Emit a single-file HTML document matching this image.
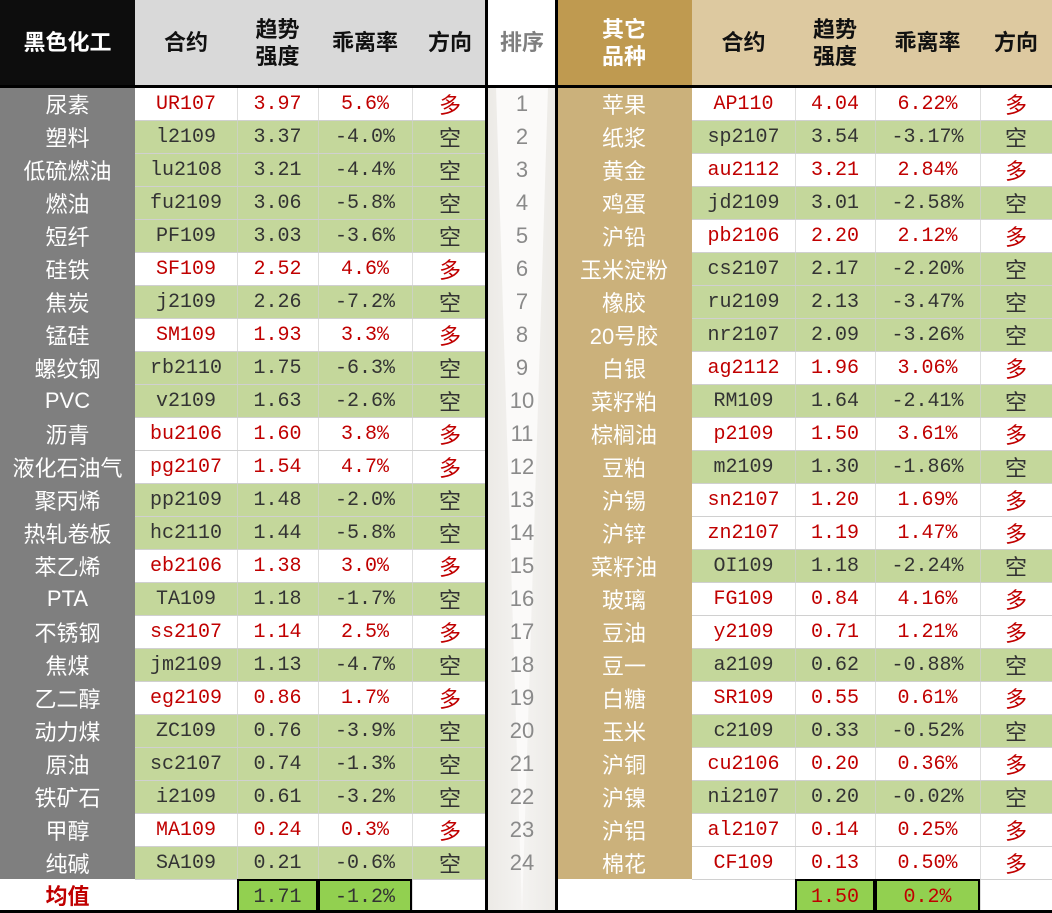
<!DOCTYPE html>
<html><head><meta charset="utf-8">
<style>
body{margin:0;width:1052px;height:913px;overflow:hidden;background:#fff;font-family:"Liberation Sans","Noto Sans CJK SC",sans-serif;position:relative}
.c{position:absolute;display:flex;align-items:center;justify-content:center;box-sizing:border-box;font-size:22px;color:#333;white-space:nowrap}
.n{font-family:"Liberation Mono","Noto Sans CJK SC",monospace;font-size:20px;padding-top:2px}
.h{font-weight:bold;color:#111;line-height:27px;text-align:center}
.red{color:#c00000}
.line{position:absolute;background:#000}
</style></head><body>
<div id="root"></div>
<script>
const leftNames=["尿素","塑料","低硫燃油","燃油","短纤","硅铁","焦炭","锰硅","螺纹钢","PVC","沥青","液化石油气","聚丙烯","热轧卷板","苯乙烯","PTA","不锈钢","焦煤","乙二醇","动力煤","原油","铁矿石","甲醇","纯碱"];
const leftCodes=["UR107","l2109","lu2108","fu2109","PF109","SF109","j2109","SM109","rb2110","v2109","bu2106","pg2107","pp2109","hc2110","eb2106","TA109","ss2107","jm2109","eg2109","ZC109","sc2107","i2109","MA109","SA109"];
const leftStrength=[3.97,3.37,3.21,3.06,3.03,2.52,2.26,1.93,1.75,1.63,1.60,1.54,1.48,1.44,1.38,1.18,1.14,1.13,0.86,0.76,0.74,0.61,0.24,0.21];
const leftDev=["5.6%","-4.0%","-4.4%","-5.8%","-3.6%","4.6%","-7.2%","3.3%","-6.3%","-2.6%","3.8%","4.7%","-2.0%","-5.8%","3.0%","-1.7%","2.5%","-4.7%","1.7%","-3.9%","-1.3%","-3.2%","0.3%","-0.6%"];
const leftDir=["多","空","空","空","空","多","空","多","空","空","多","多","空","空","多","空","多","空","多","空","空","空","多","空"];
const rightNames=["苹果","纸浆","黄金","鸡蛋","沪铅","玉米淀粉","橡胶","20号胶","白银","菜籽粕","棕榈油","豆粕","沪锡","沪锌","菜籽油","玻璃","豆油","豆一","白糖","玉米","沪铜","沪镍","沪铝","棉花"];
const rightCodes=["AP110","sp2107","au2112","jd2109","pb2106","cs2107","ru2109","nr2107","ag2112","RM109","p2109","m2109","sn2107","zn2107","OI109","FG109","y2109","a2109","SR109","c2109","cu2106","ni2107","al2107","CF109"];
const rightStrength=[4.04,3.54,3.21,3.01,2.20,2.17,2.13,2.09,1.96,1.64,1.50,1.30,1.20,1.19,1.18,0.84,0.71,0.62,0.55,0.33,0.20,0.20,0.14,0.13];
const rightDev=["6.22%","-3.17%","2.84%","-2.58%","2.12%","-2.20%","-3.47%","-3.26%","3.06%","-2.41%","3.61%","-1.86%","1.69%","1.47%","-2.24%","4.16%","1.21%","-0.88%","0.61%","-0.52%","0.36%","-0.02%","0.25%","0.50%"];
const rightDir=["多","空","多","空","多","空","空","空","多","空","多","空","多","多","空","多","多","空","多","空","多","空","多","多"];
const avgLeft=["1.71","-1.2%"];
const avgRight=["1.50","0.2%"];

const root=document.getElementById('root');
const TOP=87,RH=33;
function cell(x0,x1,y,h,txt,bg,cls,name){
  const d=document.createElement('div');
  d.className='c '+(cls||'');
  d.style.left=x0+'px';d.style.top=y+'px';d.style.width=(x1-x0)+'px';d.style.height=h+'px';
  if(bg)d.style.background=bg;
  d.innerHTML=txt;
  
  
  root.appendChild(d);return d;
}
cell(0,135,0,85,"黑色化工","#0d0d0d","h","left-group-header").style.color="#fff";
cell(135,488,0,85,"","#d9d9d9","","left-header-bg");
cell(135,237,0,85,"合约",null,"h","header-contract");
cell(237,318,0,85,"趋势<br>强度",null,"h","header-strength");
cell(318,412,0,85,"乖离率",null,"h","header-deviation");
cell(412,488,0,85,"方向",null,"h","header-direction");
cell(488,556,0,85,"排序","#fff","h","header-rank").style.color="#7f7f7f";
cell(556,692,0,85,"其它<br>品种","#bf9a50","h","right-group-header").style.color="#fff";
cell(692,1052,0,85,"","#ddc9a0","","right-header-bg");
cell(692,795,0,85,"合约",null,"h","header-contract-right");
cell(795,875,0,85,"趋势<br>强度",null,"h","header-strength-right");
cell(875,980,0,85,"乖离率",null,"h","header-deviation-right");
cell(980,1052,0,85,"方向",null,"h","header-direction-right");
cell(0,135,TOP,RH*24,"","#7f7f7f","","left-name-column");
cell(488,556,TOP,913-TOP,"","linear-gradient(90deg,#eceae6,#f4f3f1 50%,#eceae6)","","rank-column");
cell(556,692,TOP,RH*24,"","#cbb17b","","right-name-column");
const tri=document.createElementNS("http://www.w3.org/2000/svg","svg");
tri.setAttribute('width','68');tri.setAttribute('height','826');
tri.style.position='absolute';tri.style.left='488px';tri.style.top='87px';
tri.innerHTML='<polygon points="8,0 60,0 34,826" fill="#fbfaf9"/>';


root.appendChild(tri);
const G="#c4d79b";
for(let i=0;i<24;i++){
  const y=TOP+i*RH;
  let r=leftDir[i]==="多";
  let bg=r?"#fff":G, cl=r?"red":"";
  cell(0,135,y,RH,leftNames[i],null,"","left-name").style.color="#fff";
  cell(135,237,y,RH,leftCodes[i],bg,"n "+cl,"left-contract");
  cell(237,318,y,RH,leftStrength[i].toFixed(2),bg,"n "+cl,"left-strength");
  cell(318,412,y,RH,leftDev[i],bg,"n "+cl,"left-deviation");
  cell(412,488,y,RH,leftDir[i],bg,cl,"left-direction");
  cell(488,556,y,RH,String(i+1),null,"","rank").style.color="#8a8a8a";
  r=rightDir[i]==="多";bg=r?"#fff":G;cl=r?"red":"";
  cell(556,692,y,RH,rightNames[i],null,"","right-name").style.color="#fff";
  cell(692,795,y,RH,rightCodes[i],bg,"n "+cl,"right-contract");
  cell(795,875,y,RH,rightStrength[i].toFixed(2),bg,"n "+cl,"right-strength");
  cell(875,980,y,RH,rightDev[i],bg,"n "+cl,"right-deviation");
  cell(980,1052,y,RH,rightDir[i],bg,cl,"right-direction");
}
for(let i=0;i<=24;i++){
  [[135,488],[692,1052]].forEach(([a,b])=>{
    const l=document.createElement('div');l.className='line';
    l.style.cssText+=`left:${a}px;top:${TOP+i*RH}px;width:${b-a}px;height:1px;background:#d0d0d0`;
    root.appendChild(l);
  });
}
[237,318,412,795,875,980].forEach(x=>{
  const l=document.createElement('div');l.className='line';
  l.style.cssText+=`left:${x}px;top:${TOP}px;width:1px;height:${RH*25}px;background:#d0d0d0;opacity:.7`;
  root.appendChild(l);
});
const yA=TOP+24*RH;
cell(0,135,yA,913-yA,"均值","#fff","h red","average-label").style.color="#c00000";
cell(237,318,yA,913-yA,avgLeft[0],"#92d050","n","avg-strength-left").style.border="2px solid #000";
cell(318,412,yA,913-yA,avgLeft[1],"#92d050","n","avg-deviation-left").style.border="2px solid #000";
cell(795,875,yA,913-yA,avgRight[0],"#92d050","n red","avg-strength-right").style.border="2px solid #000";
cell(875,980,yA,913-yA,avgRight[1],"#92d050","n red","avg-deviation-right").style.border="2px solid #000";
[[0,85,1052,3],[0,910,1052,3]].forEach(([x,y,w,h])=>{const l=document.createElement('div');l.className='line';l.style.cssText+=`left:${x}px;top:${y}px;width:${w}px;height:${h}px`;root.appendChild(l);});
[485,555].forEach(x=>{const l=document.createElement('div');l.className='line';l.style.cssText+=`left:${x}px;top:0;width:3px;height:913px`;root.appendChild(l);});
</script>
</body></html>
